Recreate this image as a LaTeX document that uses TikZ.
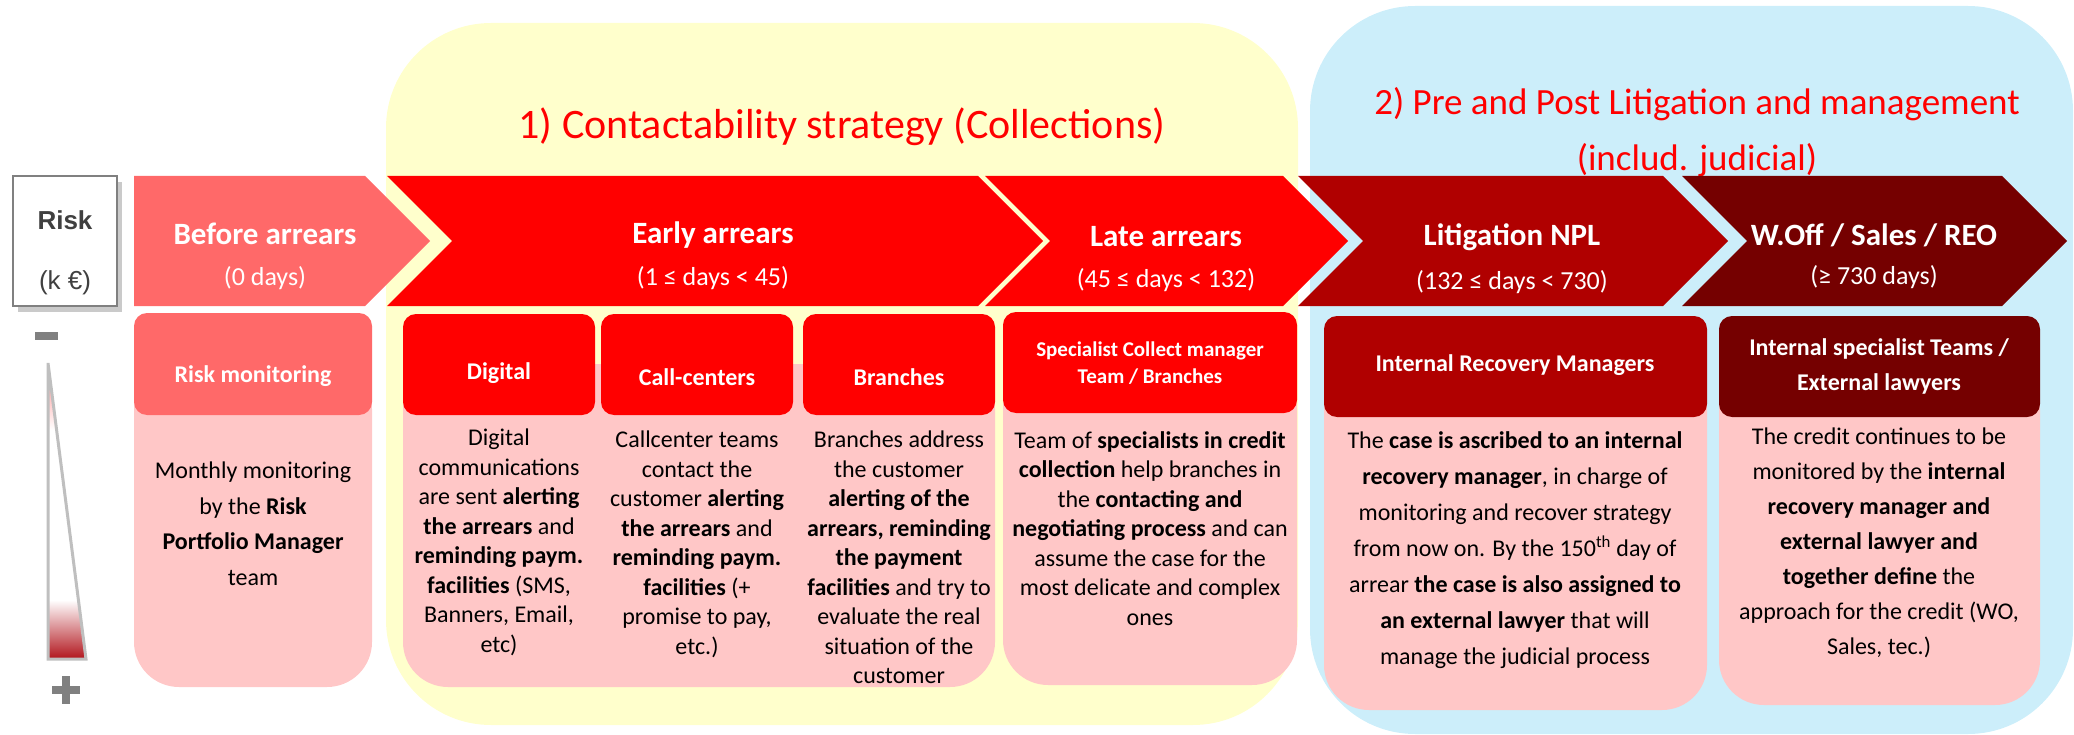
\documentclass[tikz,border=0pt]{standalone}
\usepackage{fontspec}
\setmainfont{Carlito}
\newfontfamily\arialfont{Liberation Sans}
\usepackage{tikz}
\usetikzlibrary{shadows}
\definecolor{yellowzone}{RGB}{255,255,204}
\definecolor{bluezone}{RGB}{204,238,250}
\definecolor{beforecolor}{RGB}{255,105,105}
\definecolor{earlycolor}{RGB}{255,0,0}
\definecolor{litcolor}{RGB}{176,0,0}
\definecolor{woffcolor}{RGB}{117,0,0}
\definecolor{bodycolor}{RGB}{255,199,199}
\definecolor{riskgrey}{RGB}{64,64,64}
\definecolor{signgrey}{RGB}{128,128,128}
\definecolor{wedgegrey}{RGB}{191,191,191}
\definecolor{wedgered}{RGB}{176,16,24}
\tikzstyle{zonetitle} = [font=\fontsize{42}{50}\selectfont, text=earlycolor, align=center, inner sep=0pt]
\tikzstyle{riskbox} = [draw=signgrey, line width=1.5pt, fill=white, minimum width=104pt, minimum height=130pt, drop shadow={shadow xshift=5pt, shadow yshift=-6pt, opacity=0.35, fill=black!60}]
\tikzstyle{risklabel} = [font=\arialfont\fontsize{26}{30}\selectfont, text=riskgrey, inner sep=0pt]
\tikzstyle{chevtitle} = [font=\bfseries\fontsize{31}{37}\selectfont, text=white, inner sep=0pt]
\tikzstyle{chevsub} = [font=\fontsize{26}{31}\selectfont, text=white, inner sep=0pt]
\tikzstyle{headtext} = [font=\bfseries\fontsize{24}{35}\selectfont, text=white, align=center, inner sep=0pt]
\tikzstyle{bodytext} = [font=\fontsize{24}{29.5}\selectfont, text=black, align=center, anchor=north, inner sep=0pt]
% chevron: left x, body end x, notch depth, colour
\newcommand{\chevron}[4]{\fill[#4] (#1,176) -- (#2,176) -- ({#2+65},241) -- (#2,306) -- (#1,306) -- ({#1+#3},241) -- cycle;}
% card body: left x, right x, bottom y
\newcommand{\cardbody}[3]{\fill[bodycolor, rounded corners=45pt] (#1,364) -- (#1,#3) -- (#2,#3) -- (#2,364) -- cycle;}
% card header: left x, right x, top y, bottom y, colour
\newcommand{\cardhead}[5]{\fill[#5, rounded corners=13pt] (#1,#3) rectangle (#2,#4);}

\begin{document}
\begin{tikzpicture}[x=1pt, y=-1pt]
    \useasboundingbox (0,0) rectangle (2074,735);

    % Zones
    \fill[yellowzone, rounded corners=105pt] (386,23) rectangle (1298,725);
    \fill[bluezone, rounded corners=105pt] (1310,6) rectangle (2073,734);
    \node[zonetitle] (zone1) at (842,127) {1) Contactability strategy (Collections)};
    \node[zonetitle, font=\fontsize{37}{56}\selectfont] (zone2) at (1697,132) {2) Pre and Post Litigation and management\\(includ. judicial)};

    % Risk scale
    \node[riskbox] (risk) at (65,241) {};
    \node[risklabel, font=\arialfont\bfseries\fontsize{26}{30}\selectfont] (risktitle) at (65,220) {Risk};
    \node[risklabel] (riskunit) at (65,283) {(k €)};
    \fill[signgrey] (35,332) rectangle (58,340);
    \begin{scope}
        \clip (48,363) -- (86,659) -- (48,659) -- cycle;
        \fill[white] (40,355) rectangle (90,665);
        \shade[top color=beforecolor!70, bottom color=white] (40,375) rectangle (90,430);
        \shade[top color=white, bottom color=wedgered] (40,600) rectangle (90,660);
    \end{scope}
    \draw[wedgegrey, line width=3pt] (48,363) -- (86,659) -- (48,659) -- cycle;
    \fill[signgrey] (52,686) rectangle (80,694);
    \fill[signgrey] (62,676) rectangle (70,704);

    % Stages
    \chevron{134}{365}{0}{beforecolor}
    \chevron{387}{978}{65}{earlycolor}
    \chevron{985}{1283}{65}{earlycolor}
    \chevron{1298}{1663}{65}{litcolor}
    \chevron{1682}{2002}{65}{woffcolor}
    \node[chevtitle] (before) at (265,234) {Before arrears};
    \node[chevsub] (beforedays) at (265,278) {(0 days)};
    \node[chevtitle] (early) at (713,235) {Early arrears};
    \node[chevsub] (earlydays) at (713,278) {(1 ≤ days < 45)};
    \node[chevtitle] (late) at (1166,237) {Late arrears};
    \node[chevsub] (latedays) at (1166,280) {(45 ≤ days < 132)};
    \node[chevtitle] (lit) at (1512,237) {Litigation NPL};
    \node[chevsub] (litdays) at (1512,282) {(132 ≤ days < 730)};
    \node[chevtitle] (woff) at (1874,235) {W.Off / Sales / REO};
    \node[chevsub] (woffdays) at (1874,277) {(≥ 730 days)};

    % Cards
    \cardbody{134}{372}{687}
    \cardhead{134}{372}{313}{415}{beforecolor}
    \cardbody{403}{995}{687}
    \cardhead{403}{595}{314}{415}{earlycolor}
    \cardhead{601}{793}{314}{415}{earlycolor}
    \cardhead{803}{995}{314}{415}{earlycolor}
    \cardbody{1003}{1297}{685}
    \cardhead{1003}{1297}{312}{413}{earlycolor}
    \cardbody{1324}{1707}{710}
    \cardhead{1324}{1707}{316}{417}{litcolor}
    \cardbody{1719}{2040}{705}
    \cardhead{1719}{2040}{316}{417}{woffcolor}

    % Card headers
    \node[headtext] (riskmonhead) at (253,376) {Risk monitoring};
    \node[headtext] (digitalhead) at (499,373) {Digital};
    \node[headtext] (callhead) at (697,377) {Call-centers};
    \node[headtext] (branchhead) at (899,377) {Branches};
    \node[headtext, font=\bfseries\fontsize{21}{27}\selectfont] (latehead) at (1150,363) {Specialist Collect manager\\Team / Branches};
    \node[headtext] (lithead) at (1515,365) {Internal Recovery Managers};
    \node[headtext] (woffhead) at (1879,366) {Internal specialist Teams /\\External lawyers};

    % Card texts
    \node[bodytext, font=\fontsize{24}{35.5}\selectfont] (riskmonbody) at (253,462) {Monthly monitoring\\by the \textbf{Risk}\\\textbf{Portfolio Manager}\\team};
    \node[bodytext] (digitalbody) at (499,429) {Digital\\communications\\are sent \textbf{alerting}\\\textbf{the arrears} and\\\textbf{reminding paym.}\\\textbf{facilities} (SMS,\\Banners, Email,\\etc)};
    \node[bodytext] (callbody) at (697,431) {Callcenter teams\\contact the\\customer \textbf{alerting}\\\textbf{the arrears} and\\\textbf{reminding paym.}\\\textbf{facilities} (+\\promise to pay,\\etc.)};
    \node[bodytext] (branchbody) at (899,431) {Branches address\\the customer\\\textbf{alerting of the}\\\textbf{arrears, reminding}\\\textbf{the payment}\\\textbf{facilities} and try to\\evaluate the real\\situation of the\\customer};
    \node[bodytext] (latebody) at (1150,431) {Team of \textbf{specialists in credit}\\\textbf{collection} help branches in\\the \textbf{contacting and}\\\textbf{negotiating process} and can\\assume the case for the\\most delicate and complex\\ones};
    \node[bodytext, font=\fontsize{24}{36}\selectfont] (litbody) at (1515,431) {The \textbf{case is ascribed to an internal}\\\textbf{recovery manager}, in charge of\\monitoring and recover strategy\\from now on. By the 150\textsuperscript{th} day of\\arrear \textbf{the case is also assigned to}\\\textbf{an external lawyer} that will\\manage the judicial process};
    \node[bodytext, font=\fontsize{24}{35}\selectfont] (woffbody) at (1879,428) {The credit continues to be\\monitored by the \textbf{internal}\\\textbf{recovery manager and}\\\textbf{external lawyer and}\\\textbf{together define} the\\approach for the credit (WO,\\Sales, tec.)};
\end{tikzpicture}
\end{document}
